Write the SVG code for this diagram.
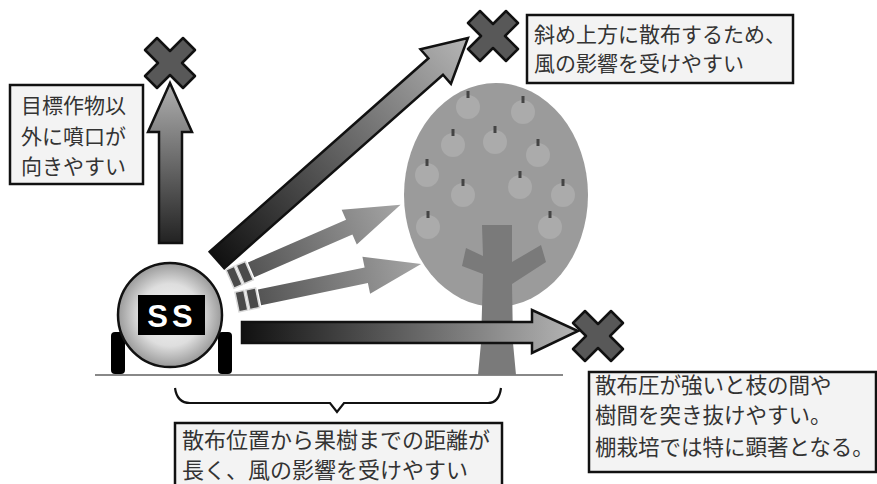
<svg xmlns="http://www.w3.org/2000/svg" xmlns:xlink="http://www.w3.org/1999/xlink" width="877" height="484" viewBox="0 0 877 484">
  <style>
    .box { fill: #f3f3f3; stroke: #111; stroke-width: 2.5; }
    .txt { font-family: "Noto Sans CJK JP", "Noto Sans", sans-serif; fill: #333; }
    .outl { stroke: #111; stroke-width: 2.5; stroke-linejoin: miter; }
    .apple { fill: #ababab; }
    .stem { fill: #444; }
    .trunk { fill: #7a7a7a; }
    .nozzle { fill: #4a4a4a; stroke: #d8d8d8; stroke-width: 1.5; }
  </style>
  <defs>
    <linearGradient id="gAlong" x1="0" y1="0" x2="1" y2="0">
      <stop offset="0" stop-color="#111"/>
      <stop offset="1" stop-color="#b5b5b5"/>
    </linearGradient>
    <linearGradient id="gShort" x1="0" y1="0" x2="1" y2="0">
      <stop offset="0" stop-color="#555"/>
      <stop offset="1" stop-color="#a5a5a5"/>
    </linearGradient>
    <radialGradient id="gBody" cx="0.5" cy="0.5" r="0.5">
      <stop offset="0" stop-color="#f4f4f4"/>
      <stop offset="0.6" stop-color="#dedede"/>
      <stop offset="1" stop-color="#9a9a9a"/>
    </radialGradient>
    <!-- cross mark, 50 x 50 centred on the origin -->
    <path id="cross" d="M-13,-25 L0,-12 L13,-25 L25,-13 L12,0 L25,13 L13,25 L0,12 L-13,25 L-25,13 L-12,0 L-25,-13 Z" fill="#585858" stroke="#111" stroke-width="2.5" stroke-linejoin="round"/>
    <!-- apple with stem -->
    <g id="apple">
      <circle r="12" class="apple"/>
      <rect x="-1.5" y="-16" width="3" height="7" class="stem"/>
    </g>
  </defs>

  <rect width="877" height="484" fill="#fff"/>

  <!-- ground -->
  <line x1="95" y1="375" x2="563" y2="375" stroke="#888" stroke-width="2"/>

  <!-- tree -->
  <g id="tree">
    <ellipse cx="496" cy="195" rx="92" ry="112" fill="#9b9b9b"/>
    <use xlink:href="#apple" x="468" y="107"/>
    <use xlink:href="#apple" x="523" y="112"/>
    <use xlink:href="#apple" x="453" y="145"/>
    <use xlink:href="#apple" x="495" y="142"/>
    <use xlink:href="#apple" x="538" y="155"/>
    <use xlink:href="#apple" x="427" y="175"/>
    <use xlink:href="#apple" x="463" y="195"/>
    <use xlink:href="#apple" x="520" y="187"/>
    <use xlink:href="#apple" x="563" y="195"/>
    <use xlink:href="#apple" x="428" y="227"/>
    <use xlink:href="#apple" x="550" y="227"/>
    <polygon class="trunk" points="482,225 512,225 512,262 541,245 546,262 512,284 513,343 516,375 478,375 481,343 483,274 462,266 466,248 483,256"/>
  </g>

  <!-- sprayer -->
  <g id="ss">
    <rect x="111" y="332" width="14" height="42" rx="4" fill="#000"/>
    <rect x="218" y="332" width="14" height="42" rx="4" fill="#000"/>
    <circle cx="170" cy="315" r="52" fill="url(#gBody)" stroke="#111" stroke-width="2.5"/>
    <rect x="138" y="295" width="67" height="40" fill="#000"/>
    <text x="172" y="327" text-anchor="middle" font-family="Liberation Sans, Arial, sans-serif" font-size="31" font-weight="bold" fill="#fff" letter-spacing="4">SS</text>
  </g>

  <!-- spray arrows -->
  <g id="connectors">
    <!-- straight up -->
    <linearGradient id="gUp" gradientUnits="userSpaceOnUse" x1="0" y1="243" x2="0" y2="83">
      <stop offset="0" stop-color="#222"/>
      <stop offset="1" stop-color="#b0b0b0"/>
    </linearGradient>
    <polygon class="outl" fill="url(#gUp)" points="159,243 182,243 182,132 192,132 170,83 148,132 159,132"/>

    <!-- diagonal upward -->
    <g transform="translate(217,260) rotate(-41.5)">
      <polygon class="outl" fill="url(#gAlong)" points="0,-11 292,-11 292,-23 335,0 292,23 292,11 0,11"/>
    </g>

    <!-- two short sprays into the canopy -->
    <g transform="translate(230,279) rotate(-23.5)">
      <rect class="nozzle" x="0" y="-10" width="9" height="20"/>
      <rect class="nozzle" x="11" y="-10" width="10" height="20"/>
      <polygon fill="url(#gShort)" points="23,-8 130,-8 130,-19 186,0 130,19 130,8 23,8"/>
    </g>
    <g transform="translate(237,302) rotate(-11.7)">
      <rect class="nozzle" x="0" y="-10" width="9" height="20"/>
      <rect class="nozzle" x="11" y="-10" width="10" height="20"/>
      <polygon fill="url(#gShort)" points="23,-8 132,-8 132,-19 188,0 132,19 132,8 23,8"/>
    </g>

    <!-- horizontal -->
    <polygon class="outl" fill="url(#gAlong)" points="242,322 532,322 532,310 578,331 532,353 532,343 242,343"/>
  </g>

  <!-- cross marks at the ends -->
  <use xlink:href="#cross" x="170" y="63"/>
  <use xlink:href="#cross" x="493" y="36"/>
  <use xlink:href="#cross" x="598" y="336"/>

  <!-- brace under the distance -->
  <path d="M175,388 Q177,403 190,403 L330,403 L337,412 L344,403 L488,403 Q499,403 501,388" fill="none" stroke="#111" stroke-width="2.2"/>

  <!-- callouts -->
  <g id="note-up">
    <rect class="box" x="10" y="85" width="133" height="99"/>
    <text class="txt" font-size="21" x="21" y="113">目標作物以</text>
    <text class="txt" font-size="21" x="21" y="144">外に噴口が</text>
    <text class="txt" font-size="21" x="21" y="174">向きやすい</text>
  </g>
  <g id="note-diag">
    <rect class="box" x="527" y="15" width="266" height="68"/>
    <text class="txt" font-size="21" x="534" y="42">斜め上方に散布するため、</text>
    <text class="txt" font-size="21" x="534" y="71">風の影響を受けやすい</text>
  </g>
  <g id="note-through">
    <rect class="box" x="589" y="372" width="287" height="100"/>
    <text class="txt" font-size="21.5" x="595" y="393">散布圧が強いと枝の間や</text>
    <text class="txt" font-size="21.5" x="595" y="423">樹間を突き抜けやすい。</text>
    <text class="txt" font-size="21.5" x="595" y="455">棚栽培では特に顕著となる。</text>
  </g>
  <g id="note-distance">
    <rect class="box" x="175" y="423" width="327" height="70"/>
    <text class="txt" font-size="22" x="182" y="448">散布位置から果樹までの距離が</text>
    <text class="txt" font-size="22" x="182" y="478">長く、風の影響を受けやすい</text>
  </g>
</svg>
